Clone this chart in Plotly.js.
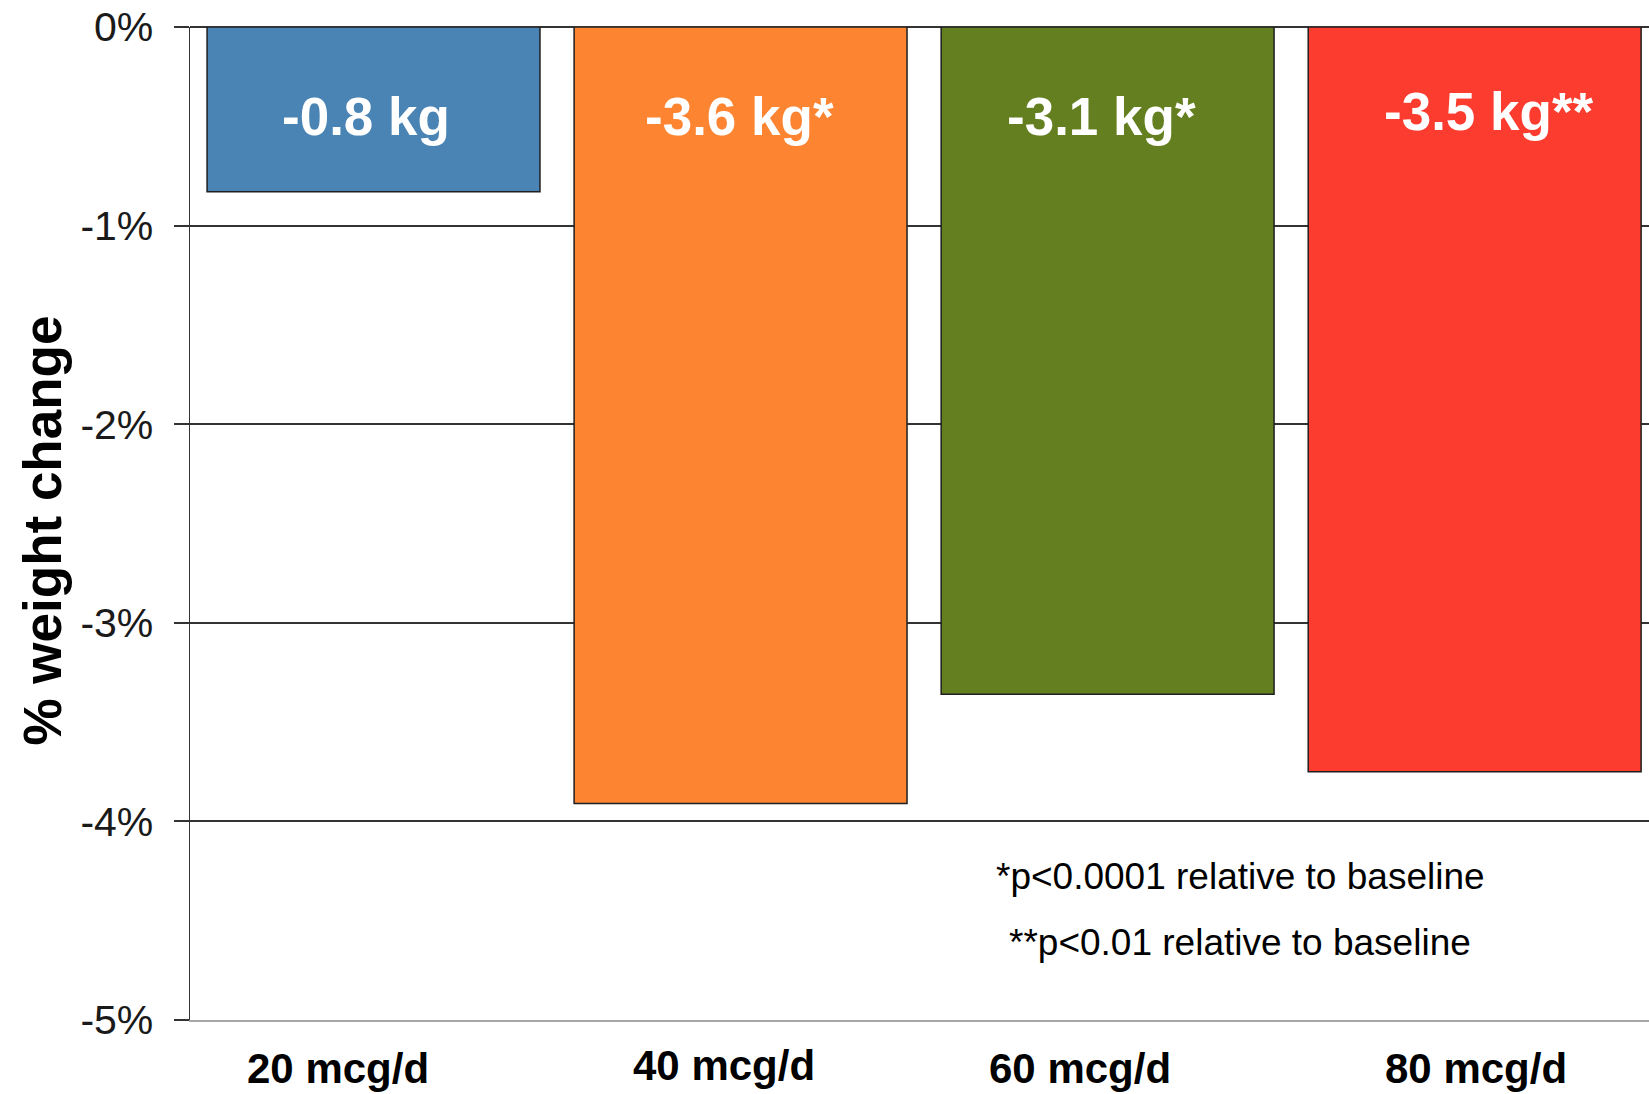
<!DOCTYPE html>
<html>
<head>
<meta charset="utf-8">
<script src="https://cdn.plot.ly/plotly-3.0.1.min.js"></script>
<style>
  html, body { margin: 0; padding: 0; background: #ffffff; }
  #chart { width: 1649px; height: 1094px; }
</style>
</head>
<body>
<div id="chart"></div>
<script>
// Dose groups and mean % weight change from baseline
const doses = ['20 mcg/d', '40 mcg/d', '60 mcg/d', '80 mcg/d'];
const pctChange = [-0.83, -3.91, -3.36, -3.75];
const kgLabels = ['-0.8 kg', '-3.6 kg*', '-3.1 kg*', '-3.5 kg**'];
const barColors = ['#4a84b4', '#fd8532', '#647f1f', '#fc3c2f'];

// Y axis ticks
const yTickVals = [0, -1, -2, -3, -4, -5];
const yTickText = ['0%', '-1%', '-2%', '-3%', '-4%', '-5%'];

// Significance notes
const notes = ['*p<0.0001 relative to baseline', '**p<0.01 relative to baseline'];

const FONT = 'Liberation Sans, Arial, Helvetica, sans-serif';
const xRange = [-0.5, 3.475];

// small per-label nudges (category units / paper units)
const kgLabelDx = [-0.02, -0.004, -0.018, 0.04];
const kgLabelY = [-0.451, -0.451, -0.451, -0.423];
const doseLabelDx = [-0.097, -0.046, -0.075, 0.004];
const doseLabelY = [-0.049, -0.046, -0.049, -0.049];
const noteY = [-4.275, -4.612];

const bars = {
  type: 'bar',
  x: doses.map((d, i) => i),
  y: pctChange,
  width: 0.907,
  marker: { color: barColors, line: { color: '#1f1f1f', width: 1.5 } },
  hoverinfo: 'skip',
  showlegend: false
};

const annotations = [];
kgLabels.forEach((t, i) => annotations.push({
  text: t, xref: 'x', yref: 'y', x: i + kgLabelDx[i], y: kgLabelY[i],
  xanchor: 'center', yanchor: 'middle', showarrow: false,
  font: { family: FONT, size: 53, color: '#ffffff', weight: 'bold' }
}));
doses.forEach((t, i) => annotations.push({
  text: t, xref: 'x', yref: 'paper', x: i + doseLabelDx[i], y: doseLabelY[i],
  xanchor: 'center', yanchor: 'middle', showarrow: false,
  font: { family: FONT, size: 42, color: '#000000', weight: 'bold' }
}));
notes.forEach((t, i) => annotations.push({
  text: t, xref: 'x', yref: 'y', x: 2.361, y: noteY[i],
  xanchor: 'center', yanchor: 'middle', showarrow: false,
  font: { family: FONT, size: 37, color: '#000000' }
}));
annotations.push({
  text: '% weight change', xref: 'paper', yref: 'paper',
  x: -0.1014, y: 0.493, xanchor: 'center', yanchor: 'middle',
  textangle: -90, showarrow: false,
  font: { family: FONT, size: 53, color: '#000000', weight: 'bold' }
});

const layout = {
  width: 1649, height: 1094,
  margin: { l: 190, r: 0, t: 27, b: 74, pad: 0 },
  paper_bgcolor: '#ffffff', plot_bgcolor: '#ffffff',
  font: { family: FONT },
  bargap: 0,
  xaxis: {
    type: 'linear', range: xRange, fixedrange: true,
    showgrid: false, zeroline: false,
    showline: true, linecolor: '#a6a6a6', linewidth: 2,
    ticks: '', showticklabels: false
  },
  xaxis2: {
    type: 'linear', range: xRange, overlaying: 'x', side: 'top', fixedrange: true,
    showgrid: false, zeroline: false,
    showline: true, linecolor: '#333333', linewidth: 2,
    tickmode: 'array', tickvals: [0.5, 1.5, 2.5],
    ticks: 'inside', ticklen: 8, tickwidth: 1.5, tickcolor: '#333333',
    showticklabels: false
  },
  yaxis: {
    range: [-5, 0], fixedrange: true,
    tickmode: 'array', tickvals: yTickVals, ticktext: yTickText,
    ticks: 'outside', ticklen: 15, tickwidth: 2, tickcolor: '#333333',
    ticklabelstandoff: 12,
    tickfont: { family: FONT, size: 41, color: '#1a1a1a' },
    showgrid: true, gridcolor: '#333333', gridwidth: 2,
    zeroline: true, zerolinecolor: '#333333', zerolinewidth: 2,
    showline: true, linecolor: '#333333', linewidth: 1.5
  },
  annotations: annotations
};

Plotly.newPlot('chart', [bars], layout, { displayModeBar: false, staticPlot: true });
</script>
</body>
</html>
